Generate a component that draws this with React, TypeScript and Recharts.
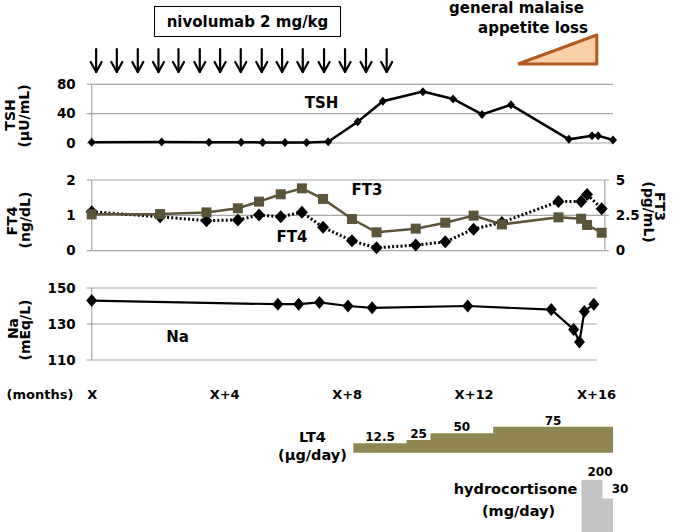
import React from 'react';
import { ComposedChart, Line, Area, Scatter, XAxis, YAxis, CartesianGrid } from 'recharts';

const FONT = "'DejaVu Sans', 'Liberation Sans', Arial, sans-serif";
const GRID = '#a6a6a6';
const OLIVE_LINE = '#5a5538';
const OLIVE_FILL = '#8f8651';
const HC_FILL = '#c4c4c4';

// ---- data (months after X) ----
const labDates = [0, 2.2, 3.69, 4.7, 5.38, 6.08, 6.76, 7.44, 8.37, 9.16, 10.42, 11.37, 12.28, 13.19, 15.01, 15.74, 15.93, 16.4];
const tshValues = [1.0, 1.2, 0.9, 1.1, 0.8, 0.6, 0.8, 1.8, 29, 57, 70, 60, 39, 52, 5, 10, 10, 4];
const ft4Values = [1.1, 0.96, 0.85, 0.87, 1.01, 0.96, 1.09, 0.66, 0.28, 0.08, 0.16, 0.25, 0.61, 0.8, 1.39, 1.39, 1.59, 1.19];
const ft3Values = [2.57, 2.59, 2.71, 3.0, 3.47, 3.99, 4.41, 3.66, 2.24, 1.3, 1.56, 1.98, 2.48, 1.86, 2.36, 2.26, 1.82, 1.27];
const naDates = [0, 6.08, 6.76, 7.44, 8.37, 9.16, 12.28, 15.01, 15.74, 15.93, 16.09, 16.4];
const naValues = [143, 141, 141, 142, 140, 139, 140, 138, 127, 120, 137, 141];
const nivolumabDoses = [0.14, 0.79, 1.45, 2.1, 2.73, 3.4, 4.04, 4.69, 5.35, 5.99, 6.64, 7.31, 7.97, 8.63, 9.28];
const symptomStart = 13.41;
const symptomPeak = 15.89;
const lt4Starts = [8.23, 9.91, 10.66, 12.63];
const lt4Doses = [12.5, 25, 50, 75];
const lt4End = 16.4;
const hcStarts = [15.41, 16.07];
const hcDoses = [200, 30];
const hcEnd = 16.4;
const monthTicks = [0, 4, 8, 12, 16];
const monthLabels = ['X', 'X+4', 'X+8', 'X+12', 'X+16'];
const tshTicks = [0, 40, 80];
const ft4Ticks = [0, 1, 2];
const ft3Ticks = [0, 2.5, 5];
const naTicks = [110, 130, 150];

// ---- derived tables ----
const tshData = labDates.map((m, i) => ({ m, v: tshValues[i] }));
const ftData = labDates.map((m, i) => ({ m, ft4: ft4Values[i], ft3: ft3Values[i] }));
const naData = naDates.map((m, i) => ({ m, v: naValues[i] }));
const arrowData = nivolumabDoses.map((m) => ({ m, v: 1 }));
const rampFill = [{ m: symptomStart, v: 0 }, { m: symptomPeak, v: 1 }];
const rampOutline = [
  { m: symptomStart, v: 0 },
  { m: symptomPeak, v: 1 },
  { m: symptomPeak, v: 0 },
  { m: symptomStart, v: 0 },
];
const lt4Data = [...lt4Starts.map((m, i) => ({ m, d: lt4Doses[i] })), { m: lt4End, d: lt4Doses[lt4Doses.length - 1] }];
const lt4LabelData = lt4Starts.map((m, i) => ({ m: (m + (lt4Starts[i + 1] ?? lt4End)) / 2, d: lt4Doses[i] }));
const hcData = [...hcStarts.map((m, i) => ({ m, d: hcDoses[i] })), { m: hcEnd, d: hcDoses[hcDoses.length - 1] }];

const tickStyle = { fill: '#000', fontSize: 13.5, fontWeight: 'bold', fontFamily: FONT };

const diamond = (w: number, h: number) => (props: any) => {
  const { cx, cy, index } = props;
  if (cx == null || cy == null) return <g key={`d${index}`} />;
  return (
    <path
      key={`d${index}`}
      d={`M${cx},${cy - h / 2}L${cx + w / 2},${cy}L${cx},${cy + h / 2}L${cx - w / 2},${cy}Z`}
      fill="#000"
    />
  );
};

const square = (s: number, fill: string) => (props: any) => {
  const { cx, cy, index } = props;
  if (cx == null || cy == null) return <g key={`s${index}`} />;
  return <rect key={`s${index}`} x={cx - s / 2} y={cy - s / 2} width={s} height={s} fill={fill} />;
};

const ArrowShape = (props: any) => {
  const { cx, cy } = props;
  if (cx == null || cy == null) return <g />;
  return (
    <g stroke="#000" strokeWidth={2.2} fill="none" strokeLinecap="round" strokeLinejoin="round">
      <line x1={cx} y1={cy} x2={cx} y2={cy + 23} />
      <polyline points={`${cx - 5.5},${cy + 13} ${cx},${cy + 23} ${cx + 5.5},${cy + 13}`} />
    </g>
  );
};

const DoseLabel = (props: any) => {
  const { cx, cy, payload } = props;
  if (cx == null || cy == null) return <g />;
  return (
    <text x={cx} y={cy - 2} textAnchor="middle" fontFamily={FONT} fontWeight="bold" fontSize={12} fill="#000">
      {payload.d}
    </text>
  );
};

const MonthTick = (props: any) => {
  const { x, y, payload } = props;
  const idx = monthTicks.indexOf(payload.value);
  return (
    <text x={x - 4.5} y={y} dy="0.71em" textAnchor="start" fontFamily={FONT} fontWeight="bold" fontSize={13} fill="#000">
      {monthLabels[idx]}
    </text>
  );
};

const abs = (top: number): React.CSSProperties => ({ position: 'absolute', left: 0, top });

const T = (p: { x: number; y: number; s?: number; a?: 'start' | 'middle' | 'end'; r?: number; children: React.ReactNode }) => (
  <text
    x={p.x}
    y={p.y}
    fontFamily={FONT}
    fontWeight="bold"
    fontSize={p.s ?? 15}
    textAnchor={p.a ?? 'middle'}
    fill="#000"
    transform={p.r ? `rotate(${p.r}, ${p.x}, ${p.y})` : undefined}
  >
    {p.children}
  </text>
);

export default function App() {
  return (
    <div style={{ position: 'absolute', left: 0, top: 0, width: 685, height: 532, background: '#fff', overflow: 'hidden' }}>
      {/* symptom ramp */}
      <div style={abs(25)}>
        <ComposedChart width={685} height={45} margin={{ top: 10, right: 72, bottom: 6, left: 91.7 }}>
          <XAxis type="number" dataKey="m" domain={[0, 16.4]} hide />
          <YAxis type="number" dataKey="v" domain={[0, 1]} hide />
          <Area data={rampFill} dataKey="v" type="linear" fill="#f9cfa8" fillOpacity={1} stroke="none" isAnimationActive={false} />
          <Line data={rampOutline} dataKey="v" type="linear" stroke="#b35a1e" strokeWidth={3} dot={false} strokeLinejoin="round" isAnimationActive={false} />
        </ComposedChart>
      </div>

      {/* nivolumab arrows */}
      <div style={abs(40)}>
        <ComposedChart width={685} height={40} margin={{ top: 9, right: 72, bottom: 10, left: 91.7 }}>
          <XAxis type="number" dataKey="m" domain={[0, 16.4]} hide />
          <YAxis type="number" dataKey="v" domain={[0, 1]} hide />
          <Scatter data={arrowData} shape={ArrowShape} isAnimationActive={false} />
        </ComposedChart>
      </div>

      {/* TSH */}
      <div style={abs(70)}>
        <ComposedChart width={685} height={100} data={tshData} margin={{ top: 14.3, right: 72, bottom: 27, left: 0 }}>
          <CartesianGrid vertical={false} stroke={GRID} strokeWidth={1.2} />
          <XAxis type="number" dataKey="m" domain={[0, 16.4]} hide />
          <YAxis
            domain={[0, 80]}
            ticks={tshTicks}
            width={91.7}
            axisLine={{ stroke: GRID, strokeWidth: 1.2 }}
            tickLine={{ stroke: GRID, strokeWidth: 1.2 }}
            tickSize={5}
            tickMargin={11}
            tick={tickStyle}
          />
          <Line dataKey="v" type="linear" stroke="#000" strokeWidth={2.5} dot={diamond(8, 9)} isAnimationActive={false} />
        </ComposedChart>
      </div>

      {/* FT4 / FT3 */}
      <div style={abs(165)}>
        <ComposedChart width={685} height={100} data={ftData} margin={{ top: 15, right: 0, bottom: 14.3, left: 0 }}>
          <CartesianGrid vertical={false} stroke={GRID} strokeWidth={1.2} yAxisId="left" />
          <XAxis type="number" dataKey="m" domain={[0, 16.5]} hide />
          <YAxis
            yAxisId="left"
            domain={[0, 2]}
            ticks={ft4Ticks}
            width={91.7}
            axisLine={{ stroke: GRID, strokeWidth: 1.2 }}
            tickLine={{ stroke: GRID, strokeWidth: 1.2 }}
            tickSize={5}
            tickMargin={11}
            tick={tickStyle}
          />
          <YAxis
            yAxisId="right"
            orientation="right"
            domain={[0, 5]}
            ticks={ft3Ticks}
            width={80.2}
            axisLine={{ stroke: GRID, strokeWidth: 1.2 }}
            tickLine={{ stroke: GRID, strokeWidth: 1.2 }}
            tickSize={4}
            tickMargin={7}
            tick={tickStyle}
          />
          <Line yAxisId="left" dataKey="ft4" type="linear" stroke="#000" strokeWidth={3} strokeDasharray="2 2.2" dot={diamond(12, 13)} isAnimationActive={false} />
          <Line yAxisId="right" dataKey="ft3" type="linear" stroke={OLIVE_LINE} strokeWidth={2.5} dot={square(10, OLIVE_LINE)} isAnimationActive={false} />
        </ComposedChart>
      </div>

      {/* Na */}
      <div style={abs(275)}>
        <ComposedChart width={685} height={135} data={naData} margin={{ top: 13, right: 88.1, bottom: 0, left: 0 }}>
          <CartesianGrid vertical={false} stroke={GRID} strokeWidth={1.2} />
          <XAxis
            type="number"
            dataKey="m"
            domain={[0, 16.5]}
            ticks={monthTicks}
            height={50}
            axisLine={false}
            tickLine={false}
            tickSize={0}
            tickMargin={29.8}
            tick={MonthTick}
            interval={0}
          />
          <YAxis
            domain={[110, 150]}
            ticks={naTicks}
            width={91.7}
            axisLine={{ stroke: GRID, strokeWidth: 1.2 }}
            tickLine={{ stroke: GRID, strokeWidth: 1.2 }}
            tickSize={5}
            tickMargin={11}
            tick={tickStyle}
          />
          <Line dataKey="v" type="linear" stroke="#000" strokeWidth={2.2} dot={diamond(11, 13)} isAnimationActive={false} />
        </ComposedChart>
      </div>

      {/* LT4 */}
      <div style={abs(410)}>
        <ComposedChart width={685} height={50} margin={{ top: 16.7, right: 72, bottom: 7.3, left: 91.7 }}>
          <XAxis type="number" dataKey="m" domain={[0, 16.4]} hide />
          <YAxis type="number" dataKey="d" domain={[-23, 75]} hide />
          <Area data={lt4Data} dataKey="d" type="stepAfter" baseValue="dataMin" fill={OLIVE_FILL} fillOpacity={1} stroke="none" isAnimationActive={false} />
          <Scatter data={lt4LabelData} shape={DoseLabel} isAnimationActive={false} />
        </ComposedChart>
      </div>

      {/* hydrocortisone */}
      <div style={abs(470)}>
        <ComposedChart width={685} height={62} margin={{ top: 10, right: 72, bottom: 0, left: 91.7 }}>
          <XAxis type="number" dataKey="m" domain={[0, 16.4]} hide />
          <YAxis type="number" dataKey="d" domain={[-280, 200]} hide />
          <Area data={hcData} dataKey="d" type="stepAfter" baseValue="dataMin" fill={HC_FILL} fillOpacity={1} stroke="none" isAnimationActive={false} />
        </ComposedChart>
      </div>

      {/* annotations */}
      <svg width={685} height={532} style={{ position: 'absolute', left: 0, top: 0, pointerEvents: 'none' }}>
        <rect x={154.5} y={6.5} width={186} height={30} fill="none" stroke="#000" strokeWidth={1} />
        <T x={247.5} y={26.5}>nivolumab 2 mg/kg</T>
        <T x={516.5} y={12.5}>general malaise</T>
        <T x={533} y={33}>appetite loss</T>

        <T x={321.5} y={108}>TSH</T>
        <T x={367} y={195}>FT3</T>
        <T x={292} y={242}>FT4</T>
        <T x={177.5} y={341.5}>Na</T>

        <T x={15} y={115} s={14} r={-90}>TSH</T>
        <T x={29} y={116} s={14} r={-90}>(μU/mL)</T>
        <T x={17} y={221} s={14} r={-90}>FT4</T>
        <T x={30} y={220} s={14} r={-90}>(ng/dL)</T>
        <T x={18} y={328.5} s={14} r={-90}>Na</T>
        <T x={30} y={330} s={14} r={-90}>(mEq/L)</T>
        <T x={655} y={206.5} s={14} r={90}>FT3</T>
        <T x={644} y={212} s={14} r={90}>(pg/mL)</T>

        <T x={40} y={399} s={13}>(months)</T>

        <T x={312.5} y={442} s={14.5}>LT4</T>
        <T x={312.5} y={460} s={14.5}>(μg/day)</T>
        <T x={515.6} y={494} s={14.5}>hydrocortisone</T>
        <T x={518.5} y={516} s={14.5}>(mg/day)</T>
        <T x={600} y={476} s={12}>{hcDoses[0]}</T>
        <T x={620} y={493} s={12}>{hcDoses[1]}</T>
      </svg>
    </div>
  );
}
